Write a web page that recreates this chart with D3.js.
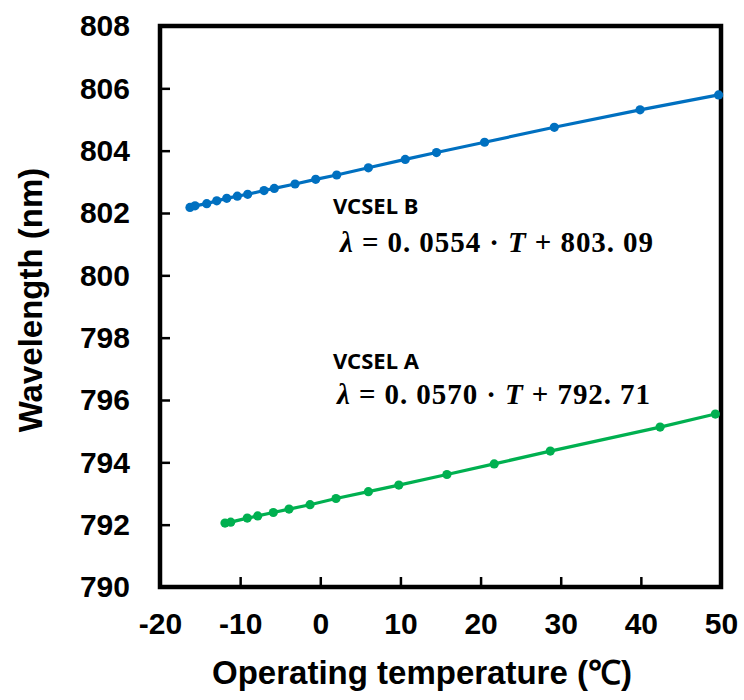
<!DOCTYPE html>
<html>
<head>
<meta charset="utf-8">
<script src="https://cdn.jsdelivr.net/npm/d3@7"></script>
<style>
  html, body { margin: 0; padding: 0; background: #fff; }
  svg { display: block; }
</style>
</head>
<body>
<svg id="chart" width="744" height="700"></svg>
<script>
'use strict';

// ── Data ────────────────────────────────────────────────────────────────────
const tempB = [-16.26, -15.63, -14.17, -12.92, -11.67, -10.35, -9.06, -7.02, -5.74, -3.15,
               -0.57, 2.05, 6.0, 10.6, 14.5, 20.5, 29.2, 39.9, 49.7];
const waveB = [802.18, 802.23, 802.30, 802.39, 802.47, 802.54, 802.60, 802.72, 802.79, 802.93,
               803.08, 803.22, 803.45, 803.72, 803.94, 804.27, 804.75, 805.31, 805.79];

const tempA = [-11.89, -11.18, -9.11, -7.81, -5.86, -3.90, -1.28, 1.96, 6.0, 9.8,
               15.8, 21.7, 28.7, 42.4, 49.3];
const waveA = [792.05, 792.08, 792.21, 792.28, 792.39, 792.50, 792.64, 792.84, 793.06, 793.27,
               793.61, 793.95, 794.36, 795.13, 795.55];

const xTicks = [-20, -10, 0, 10, 20, 30, 40, 50];
const yTicks = [790, 792, 794, 796, 798, 800, 802, 804, 806, 808];

const seriesNames = ['VCSEL B', 'VCSEL A'];
const equations   = [['0.0554', '803.09'], ['0.0570', '792.71']];

// ── Layout ──────────────────────────────────────────────────────────────────
const X0 = 160, X1 = 721, Y0 = 26, Y1 = 587;
const FONT = 'Liberation Sans, Arial, sans-serif';
const BLUE = '#0070c0', GREEN = '#00b050';

const svg = d3.select('#chart');

const x = d3.scaleLinear().domain([-20, 50]).range([X0, X1]);
const y = d3.scaleLinear().domain([790, 808]).range([Y1, Y0]);

// ── Axes (ticks pointing inward) ───────────────────────────────────────────
const xAxis = svg.append('g')
  .attr('transform', `translate(0,${Y1})`)
  .call(d3.axisBottom(x).tickValues(xTicks).tickFormat(d => String(d))
    .tickSizeInner(-10).tickSizeOuter(0));

const yAxis = svg.append('g')
  .attr('transform', `translate(${X0},0)`)
  .call(d3.axisLeft(y).tickValues(yTicks).tickFormat(d => String(d))
    .tickSizeInner(-10).tickSizeOuter(0).tickPadding(30));

[xAxis, yAxis].forEach(ax => {
  ax.select('.domain').remove();
  ax.selectAll('line').attr('stroke', '#000').attr('stroke-width', 2.5);
  ax.selectAll('text')
    .attr('fill', '#000')
    .attr('font-family', FONT)
    .attr('font-weight', 'bold')
    .attr('font-size', '30px');
});
xAxis.selectAll('text').attr('dy', 0).attr('y', 47);
yAxis.selectAll('text').attr('dy', '0.33em');
// inner ticks at the frame corners are hidden by the frame itself
xAxis.selectAll('.tick line').filter(d => d === -20 || d === 50).remove();
yAxis.selectAll('.tick line').filter(d => d === 790 || d === 808).remove();

// Frame
svg.append('rect')
  .attr('x', X0).attr('y', Y0)
  .attr('width', X1 - X0).attr('height', Y1 - Y0)
  .attr('fill', 'none')
  .attr('stroke', '#000')
  .attr('stroke-width', 4.5);

// ── Series ──────────────────────────────────────────────────────────────────
const line = d3.line().x(d => x(d[0])).y(d => y(d[1]));

function drawSeries(temps, waves, color) {
  const pts = temps.map((t, i) => [t, waves[i]]);
  svg.append('path')
    .datum(pts)
    .attr('d', line)
    .attr('fill', 'none')
    .attr('stroke', color)
    .attr('stroke-width', 3.2);
  svg.append('g').selectAll('circle')
    .data(pts)
    .join('circle')
    .attr('cx', d => x(d[0]))
    .attr('cy', d => y(d[1]))
    .attr('r', 4.6)
    .attr('fill', color);
}

drawSeries(tempB, waveB, BLUE);
drawSeries(tempA, waveA, GREEN);

// ── Annotations ─────────────────────────────────────────────────────────────
const labelPos = [
  { lx: 333, ly: 214, ex: 340, ey: 252 },
  { lx: 333, ly: 369, ex: 337, ey: 404 }
];

seriesNames.forEach((name, i) => {
  const p = labelPos[i];
  svg.append('text')
    .attr('x', p.lx).attr('y', p.ly)
    .attr('font-family', 'Noto Sans, sans-serif')
    .attr('font-weight', 'bold')
    .attr('font-size', '22px')
    .attr('fill', '#000')
    .text(name);

  const eq = svg.append('text')
    .attr('x', p.ex).attr('y', p.ey)
    .attr('font-family', 'Liberation Serif, serif')
    .attr('font-weight', 'bold')
    .attr('font-size', '29px')
    .attr('fill', '#000')
    .attr('textLength', 313)
    .attr('lengthAdjust', 'spacing');
  eq.append('tspan').attr('font-style', 'italic').text('λ');
  eq.append('tspan').text(' = ' + equations[i][0].replace('.', '. ') + ' · ');
  eq.append('tspan').attr('font-style', 'italic').text('T');
  eq.append('tspan').text(' + ' + equations[i][1].replace('.', '. '));
});

// ── Axis titles ─────────────────────────────────────────────────────────────
svg.append('text')
  .attr('x', 422).attr('y', 684)
  .attr('text-anchor', 'middle')
  .attr('font-family', FONT)
  .attr('font-weight', 'bold')
  .attr('font-size', '33px')
  .attr('fill', '#000')
  .text('Operating temperature (℃)');

svg.append('text')
  .attr('transform', 'translate(42,300) rotate(-90)')
  .attr('text-anchor', 'middle')
  .attr('font-family', FONT)
  .attr('font-weight', 'bold')
  .attr('font-size', '33px')
  .attr('fill', '#000')
  .text('Wavelength (nm)');
</script>
</body>
</html>
